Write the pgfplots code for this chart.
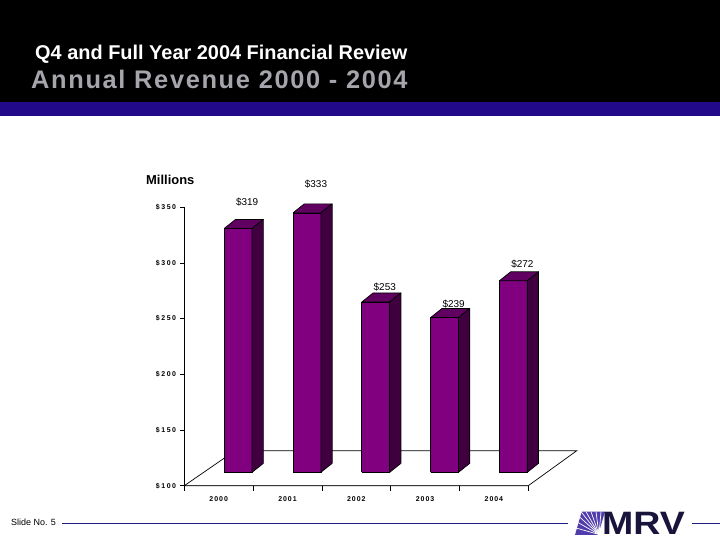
\documentclass[border=0pt]{standalone}
\usepackage{pgfplots}
\pgfplotsset{compat=1.18}
\usepackage{pgfplotstable}
\usepackage{fontspec}
\setmainfont{Liberation Sans}
\newfontfamily\ytickfont[LetterSpace=22]{Liberation Sans}
\newfontfamily\xtickfont[LetterSpace=14]{Liberation Sans}
\newfontfamily\subfont[LetterSpace=6.5]{Liberation Sans}
\newfontfamily\logofont[FakeStretch=1.16]{Liberation Sans}
\definecolor{band}{RGB}{33,9,138}
\definecolor{subgray}{RGB}{165,165,172}
\definecolor{barfront}{RGB}{128,0,128}
\definecolor{bartop}{RGB}{96,0,96}
\definecolor{barside}{RGB}{64,0,64}
\definecolor{navyline}{RGB}{30,30,130}
\definecolor{logotext}{RGB}{25,20,60}
\definecolor{logoblue}{RGB}{80,60,170}

\pgfplotstableread{
x val ly
0 319 354.5
1 333 370.9
2 253 278.7
3 239 263.2
4 272 299.1
}\revtable

\begin{document}
\begin{tikzpicture}[x=1bp,y=1bp]
\useasboundingbox (0,0) rectangle (720,540);
\fill[white] (0,0) rectangle (720,540);
% header
\fill[black] (0,438) rectangle (720,540);
\fill[band] (0,424) rectangle (720,438);
\node[anchor=base west, inner sep=0, text=white, font=\fontsize{20}{24}\selectfont\bfseries] at (35,480) {Q4 and Full Year 2004 Financial Review};
\node[anchor=base west, inner sep=0, text=subgray, font=\subfont\fontsize{25.5}{30}\selectfont\bfseries] at (31,451.7) {Annual Revenue 2000 - 2004};
% footer
\node[anchor=west, inner sep=0, font=\fontsize{9}{11}\selectfont] at (11,18) {Slide No. 5};
\draw[navyline, line width=0.8bp] (62,17) -- (568,17);
\draw[navyline, line width=0.8bp] (692,17) -- (720,17);
\fill[logoblue] (575,5) -- (598,5) -- (605,28.3) -- (581.7,28.3) -- cycle;
\foreach \a/\b in {576/12,577/18,578.5/24,581/28.3,586/28.3,591/28.3,596/28.3,601/28.3}{
  \draw[white, line width=0.7bp] (599,5.5) -- (\a,\b);
}
\node[anchor=base west, inner sep=0, text=logotext, font=\logofont\fontsize{32.5}{34}\selectfont\bfseries] at (602,5) {MRV};
% millions
\node[anchor=west, inner sep=0, font=\fontsize{13}{15}\selectfont\bfseries] at (146,360) {Millions};
\begin{axis}[
  at={(184.3bp,54.3bp)}, anchor=south west,
  scale only axis, width=344bp, height=278.4bp,
  xmin=-0.5, xmax=4.5, ymin=100, ymax=350,
  clip=false,
  axis x line*=bottom, axis y line*=left,
  axis line style={black, line width=0.7bp, -},
  /pgf/number format/assume math mode=true,
  xtick={0,1,2,3,4}, xticklabels={2000,2001,2002,2003,2004},
  major x tick style={draw=none},
  minor xtick={-0.5,0.5,1.5,2.5,3.5,4.5},
  minor tick length=5bp,
  major tick length=4bp,
  xtick align=outside, ytick align=outside,
  tick style={black, line width=0.7bp},
  ytick={100,150,200,250,300,350},
  yticklabel={\$\pgfmathprintnumber{\tick}},
  yticklabel style={font=\ytickfont\fontsize{7}{8}\selectfont\bfseries, anchor=east, inner sep=0pt, xshift=-4bp},
  xticklabel style={font=\xtickfont\fontsize{7}{8}\selectfont\bfseries, anchor=north, inner sep=0pt, yshift=-7bp},
]
% floor
\addplot[fill=white, draw=black, line width=0.7bp] coordinates {(-0.5,100) (4.5,100) (5.204,131.4) (0.237,131.4) (-0.5,100)};
% bars
\pgfplotsinvokeforeach{0,...,4}{
  \pgfplotstablegetelem{#1}{val}\of\revtable
  \pgfmathsetmacro\vt{\pgfplotsretval+12}
  \pgfmathsetmacro\vtt{\vt+8.08}
  \pgfmathsetmacro\xa{#1+0.08}
  \pgfmathsetmacro\xb{#1+0.485}
  \pgfmathsetmacro\xc{\xb+0.164}
  \pgfmathsetmacro\xd{\xa+0.164}
  \addplot[fill=barfront, draw=black, line width=0.7bp, line join=round] coordinates {(\xa,112) (\xb,112) (\xb,\vt) (\xa,\vt) (\xa,112)};
  \addplot[fill=bartop, draw=black, line width=0.7bp, line join=round] coordinates {(\xa,\vt) (\xb,\vt) (\xc,\vtt) (\xd,\vtt) (\xa,\vt)};
  \addplot[fill=barside, draw=black, line width=0.7bp, line join=round] coordinates {(\xb,112) (\xc,120.08) (\xc,\vtt) (\xb,\vt) (\xb,112)};
}
% value labels
\addplot[only marks, mark=none, point meta=explicit,
  nodes near coords={\$\pgfmathprintnumber{\pgfplotspointmeta}},
  every node near coord/.append style={anchor=center, inner sep=0pt, font=\fontsize{10}{12}\selectfont, text=black}]
  table[x expr=\thisrow{x}+0.414, y=ly, meta=val] {\revtable};
\end{axis}
\end{tikzpicture}
\end{document}
